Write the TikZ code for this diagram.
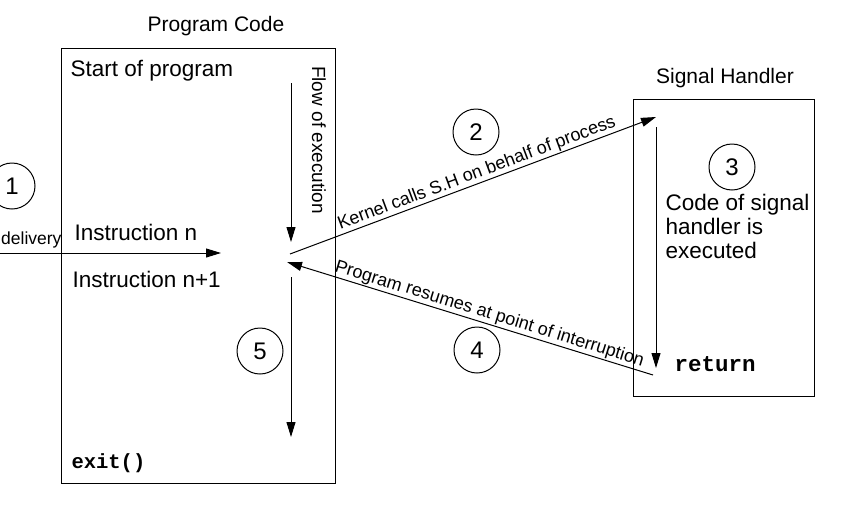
\documentclass[tikz,border=0pt]{standalone}
\usepackage{fontspec}
\setmainfont{Liberation Sans}
\setmonofont{Liberation Mono}
\usetikzlibrary{arrows.meta}

\begin{document}
\begin{tikzpicture}[x=1pt,y=-1pt,line width=1pt,
  every node/.style={inner sep=0pt,font=\fontsize{22.5}{24}\selectfont},
  box/.style={draw,line width=1.2pt,anchor=north west},
  title/.style={font=\fontsize{21}{24}\selectfont},
  num/.style={draw,circle,minimum size=46pt,font=\fontsize{24}{26}\selectfont},
  lbl/.style={font=\fontsize{18}{20}\selectfont,sloped,inner sep=1pt},
  code/.style={font=\fontsize{20.5}{24}\ttfamily\bfseries,anchor=west},
  flow/.style={-{Triangle[length=15pt,width=9pt]}},
  back/.style={{Triangle[length=15pt,width=9pt]}-}]
\useasboundingbox (0,0) rectangle (859,509);
\node[box,minimum width=274pt,minimum height=435pt] (prog) at (61,48) {};
\node[box,minimum width=181pt,minimum height=297pt] (sh) at (633,99) {};
\node[title] (progtitle) at (216,26) {Program Code};
\node[title] (shtitle) at (725,78) {Signal Handler};
\node[anchor=west] (start) at (70,71) {Start of program};
\node[anchor=west] (instn) at (74,232) {Instruction n};
\node[anchor=west] (instn1) at (72,279) {Instruction n+1};
\node[anchor=east,font=\fontsize{17.5}{20}\selectfont] (deliv) at (62,240) {delivery};
\node[code] (exit) at (71,463) {exit()};
\node[code,font=\fontsize{22.5}{24}\ttfamily\bfseries] (ret) at (674,364) {return};
\node[anchor=north west,align=left] (shcode) at (665,194) {Code of signal\\handler is\\executed};
\node[rotate=-90,font=\fontsize{19}{22}\selectfont] (flowlbl) at (319,140) {Flow of execution};
\node[num] (one) at (12,186) {1};
\node[num] (two) at (476,132) {2};
\node[num] (three) at (732,167) {3};
\node[num] (four) at (477,350) {4};
\node[num] (five) at (260,351) {5};
\coordinate (sig) at (0,253);
\coordinate (sigend) at (221,253);
\coordinate (flowtop) at (291,83);
\coordinate (flowbot) at (291,242);
\coordinate (intr) at (290,254);
\coordinate (resume) at (287,262);
\coordinate (shtop) at (656,117);
\coordinate (shin) at (656,127);
\coordinate (shout) at (656,368);
\coordinate (shret) at (653,375);
\coordinate (resttop) at (291,277);
\coordinate (restbot) at (291,437);
\draw[flow] (sig) -- (sigend);
\draw[flow] (flowtop) -- (flowbot);
\draw[flow] (intr) -- node[lbl,above,pos=0.52] {Kernel calls S.H on behalf of process} (shtop);
\draw[flow] (shin) -- (shout);
\draw[back] (resume) -- node[lbl,above,pos=0.545] {Program resumes at point of interruption} (shret);
\draw[flow] (resttop) -- (restbot);
\end{tikzpicture}
\end{document}
